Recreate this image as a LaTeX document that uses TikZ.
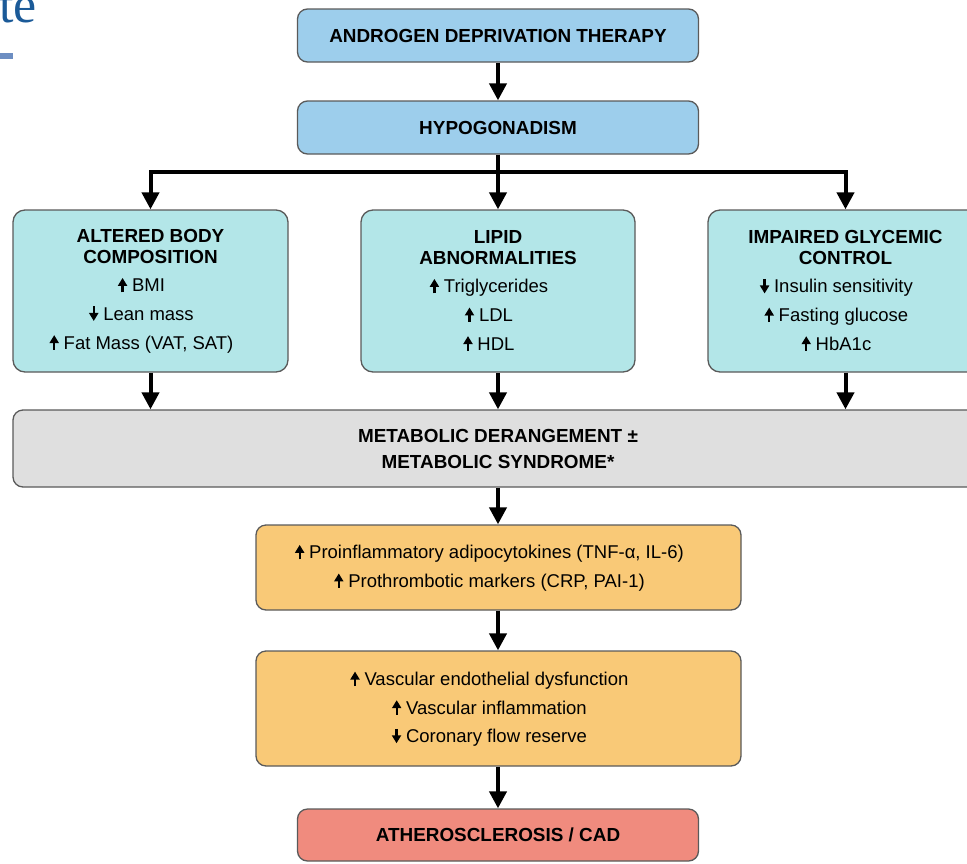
\documentclass[tikz,border=0pt]{standalone}
\usepackage{fontspec}
\setmainfont{Liberation Sans}
\newfontfamily\slideserif{Liberation Serif}
\usetikzlibrary{arrows.meta}

\definecolor{edge}{HTML}{5A5A5A}
\definecolor{adtblue}{HTML}{9DCEEC}
\definecolor{panelcyan}{HTML}{B3E6E8}
\definecolor{panelgray}{HTML}{DFDFDF}
\definecolor{panelorange}{HTML}{F9C977}
\definecolor{panelred}{HTML}{F08B7E}
\definecolor{slideblue}{HTML}{1B5A98}
\definecolor{slidebar}{HTML}{6D8EC2}

\newcommand\bodyfont{\fontsize{18.5}{28.6}\selectfont}
\newcommand\hd[1]{{\fontsize{18.9}{28.6}\selectfont\bfseries #1}}
% small bold arrows marking an increase or a decrease
\newcommand\incr{\tikz[baseline=0pt]\draw[line width=2.3pt,-{Triangle[width=9pt,length=8pt]}] (0pt,-0.5pt) -- (0pt,14pt);\hspace{5pt}}
\newcommand\decr{\tikz[baseline=0pt]\draw[line width=2.3pt,-{Triangle[width=9pt,length=8pt]}] (0pt,14pt) -- (0pt,-0.5pt);\hspace{5pt}}
\newcommand\pad{\rule{18pt}{0pt}}

\begin{document}
\begin{tikzpicture}[x=1pt,y=-1pt,
  box/.style={draw=edge, line width=1.3pt, rounded corners=10pt, inner sep=0pt,
    align=center, font=\bodyfont},
  flow/.style={line width=4pt, -{Triangle[width=17pt,length=17pt]}},
  branch/.style={line width=3.8pt}]
\useasboundingbox (0,0) rectangle (967,863);

% slide remnants in the corner
\node[anchor=base west, inner sep=0pt, text=slideblue, font=\slideserif\fontsize{52}{52}\selectfont] (slidetxt) at (-1,22) {te};
\fill[slidebar] (0,53) rectangle (13,59);

% boxes
\node[box, fill=adtblue, minimum width=401pt, minimum height=53pt] (adt) at (498,35.5) {\hd{ANDROGEN DEPRIVATION THERAPY}};
\node[box, fill=adtblue, minimum width=401pt, minimum height=53pt] (hypo) at (498,127.5) {\hd{HYPOGONADISM}};

\node[box, fill=panelcyan, rounded corners=12pt, minimum width=275pt, minimum height=162pt] (body) at (150.5,291)
  {\hd{ALTERED BODY}\\[-7.6pt]\hd{COMPOSITION}\\
   \incr BMI\pad\\ \decr Lean mass\pad\\ \incr Fat Mass (VAT, SAT)\pad};
\node[box, fill=panelcyan, rounded corners=12pt, minimum width=274pt, minimum height=162pt] (lipid) at (498,291)
  {\hd{LIPID}\\[-7.6pt]\hd{ABNORMALITIES}\\
   \incr Triglycerides\pad\\ \incr LDL\pad\\ \incr HDL\pad};
\node[box, fill=panelcyan, rounded corners=12pt, minimum width=275pt, minimum height=162pt] (glyc) at (845.5,291)
  {\hd{IMPAIRED GLYCEMIC}\\[-7.6pt]\hd{CONTROL}\\
   \decr Insulin sensitivity\pad\\ \incr Fasting glucose\pad\\ \incr HbA1c\pad};

\node[box, fill=panelgray, minimum width=970pt, minimum height=77pt] (metab) at (498,448.5)
  {\hd{METABOLIC DERANGEMENT ±}\\[-2.6pt]\hd{METABOLIC SYNDROME*}};

\node[box, fill=panelorange, minimum width=485pt, minimum height=85pt] (inflam) at (498.5,567.5)
  {\incr Proinflammatory adipocytokines (TNF-α, IL-6)\pad\\ \incr Prothrombotic markers (CRP, PAI-1)\pad};
\node[box, fill=panelorange, minimum width=485pt, minimum height=115pt] (vasc) at (498.5,708.5)
  {\incr Vascular endothelial dysfunction\pad\\ \incr Vascular inflammation\pad\\ \decr Coronary flow reserve\pad};

\node[box, fill=panelred, minimum width=401pt, minimum height=52pt] (cad) at (498,835)
  {\hd{ATHEROSCLEROSIS / CAD}};

% connectors
\coordinate (split) at (498,172);
\draw[flow] (adt) -- (hypo);
\draw[branch] (hypo.south) -- (split);
\draw[flow] (split) -| (body.north);
\draw[flow] (split) -- (lipid.north);
\draw[flow] (split) -| (glyc.north);

\draw[flow] (body.south) -- (body.south |- metab.north);
\draw[flow] (lipid.south) -- (lipid.south |- metab.north);
\draw[flow] (glyc.south) -- (glyc.south |- metab.north);

\draw[flow] (metab.south -| cad.north) -- (inflam.north -| cad.north);
\draw[flow] (inflam.south -| cad.north) -- (vasc.north -| cad.north);
\draw[flow] (vasc.south -| cad.north) -- (cad.north);
\end{tikzpicture}
\end{document}
